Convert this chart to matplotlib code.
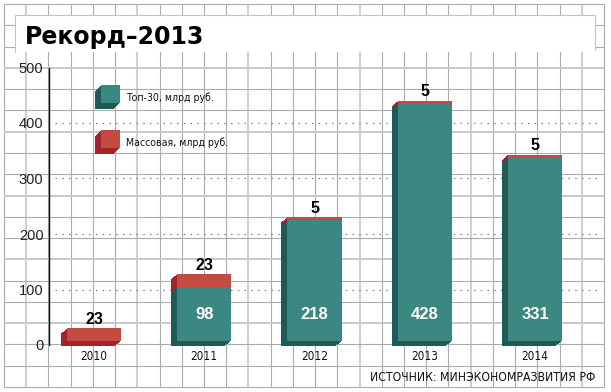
import numpy as np
import matplotlib
matplotlib.use("Agg")  # no display
import matplotlib.pyplot as plt
from matplotlib.patches import Rectangle
from matplotlib.transforms import offset_copy

# Data
years = ["2010", "2011", "2012", "2013", "2014"]
top30 = [0, 98, 218, 428, 331]  # Топ-30, млрд руб.
mass = [23, 23, 5, 5, 5]  # Массовая, млрд руб.
y_ticks = [0, 100, 200, 300, 400, 500]

title = "Рекорд–2013"
legend_labels = ["Топ-30, млрд руб.", "Массовая, млрд руб."]
source = "ИСТОЧНИК: МИНЭКОНОМРАЗВИТИЯ РФ"

# Colours
teal = "#3b8781"
teal_dark = "#1e5a57"
red = "#c44b40"
red_dark = "#a2232c"

W, H = 611, 392
fig = plt.figure(figsize=(W / 100, H / 100), dpi=100)

# Graph paper background (pixel coords)
bg = fig.add_axes([0, 0, 1, 1])
bg.set_xlim(0, W)
bg.set_ylim(H, 0)
bg.axis("off")
gx = np.linspace(4, 604, 28)
gy = np.linspace(4, 387, 19)
for k, xv in enumerate(gx):
    if k % 5 == 1:
        bg.vlines(xv, 4, 387, color="#d0d0d0", lw=1.5)
    else:
        bg.vlines(xv, 4, 387, color="#ababab", lw=0.8)
for k, yv in enumerate(gy):
    if k % 3 == 0 and 0 < k < 18:
        bg.hlines(yv, 4, 604, color="#c8c8c8", lw=1.4)
    else:
        bg.hlines(yv, 4, 604, color="#ababab", lw=0.8)

# Title box
bg.add_patch(Rectangle((14.5, 15), 580, 37, fc="white", ec="none", zorder=3))
bg.plot([14.5, 14.5, 594.5, 594.5], [52, 15, 15, 50], color="#c4c4c4", lw=0.8, zorder=4)
bg.text(25, 43.5, title, fontsize=17, fontweight="bold", family="DejaVu Sans",
        ha="left", va="baseline", zorder=5)

# Legend cubes
for (col, dcol), lab, top in zip([(teal, teal_dark), (red, red_dark)], legend_labels, [85, 130]):
    for s in range(6, 0, -1):
        bg.add_patch(Rectangle((100.7 - s * 0.92, top + s), 19.3, 18.3, fc=dcol, ec="none", zorder=3))
    bg.add_patch(Rectangle((100.7, top), 19.3, 18.3, fc=col, ec="none", zorder=4))
    bg.text(126, top + 16, lab, fontsize=7.6, family="DejaVu Sans", stretch="condensed",
            ha="left", va="baseline", color="#111111", zorder=5)

# Source
bg.text(595, 381, source, fontsize=8.7, family="DejaVu Sans", stretch="condensed",
        ha="right", va="baseline", color="#111111", zorder=5)

# Data axes
ax = fig.add_axes([49 / W, (H - 345) / H, (597 - 49) / W, (345 - 67.5) / H])
ax.patch.set_alpha(0)
x = np.arange(len(years))
ax.set_xlim(-0.408, 4.562)
ax.set_ylim(0, 500)

bw = 0.49
bottoms = np.array(top30)

# 3D side: sweep of dark copies from back to front
for s in range(6, 0, -1):
    tr = offset_copy(ax.transData, fig=fig, x=-s, y=4 - s * 5 / 6, units="dots")
    ax.bar(x, top30, bw, color=teal_dark, transform=tr, zorder=2, clip_on=False)
    ax.bar(x, mass, bw, bottom=bottoms, color=red_dark, transform=tr, zorder=2, clip_on=False)

front_tr = offset_copy(ax.transData, fig=fig, x=0, y=4, units="dots")
ax.bar(x, top30, bw, color=teal, transform=front_tr, zorder=3, clip_on=False)
ax.bar(x, mass, bw, bottom=bottoms, color=red, transform=front_tr, zorder=3, clip_on=False)

# Dotted grid
ax.hlines(y_ticks[:-1], -0.354, 4.562, colors="#808080", linestyles=(0, (1.2, 4.2)),
          lw=0.9, zorder=1)

# Value labels
for i in range(len(years)):
    ax.annotate(str(mass[i]), (x[i], top30[i] + mass[i]), xytext=(0, 6),
                textcoords="offset points", ha="center", va="baseline",
                fontsize=11.5, fontweight="bold", family="Liberation Sans", zorder=5)
    if top30[i] > 0:
        ax.text(x[i], 47, str(top30[i]), ha="center", va="baseline", color="white",
                fontsize=12, fontweight="bold", family="Liberation Sans", zorder=5)

# Axes styling
for s in ["top", "right", "bottom"]:
    ax.spines[s].set_visible(False)
ax.spines["left"].set_color("#111111")
ax.spines["left"].set_linewidth(1.0)
ax.set_yticks(y_ticks)
ax.set_yticklabels([str(v) for v in y_ticks], family="Liberation Sans", fontsize=10.5,
                   color="#222222")
ax.set_xticks(x)
ax.set_xticklabels(years, family="DejaVu Sans", stretch="condensed", fontsize=8.5,
                   color="#111111")
ax.tick_params(axis="y", length=0, pad=4)
ax.tick_params(axis="x", length=0, pad=3.5)

fig.savefig("out.png", dpi=100)
